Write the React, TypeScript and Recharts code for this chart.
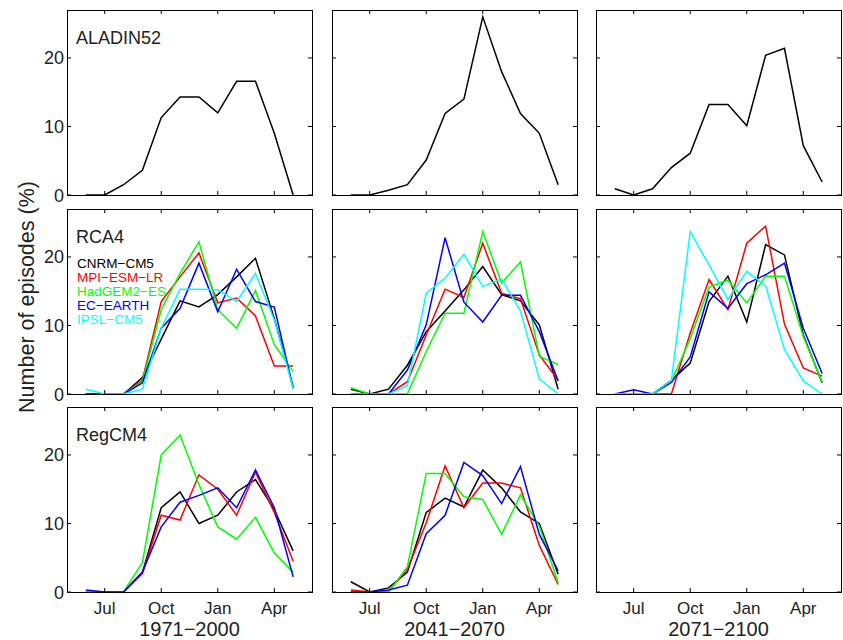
import { LineChart, Line, XAxis, YAxis, ReferenceArea } from "recharts";

// Month axis: Jun (6) ... May (17), hydrological year
const months = [6, 7, 8, 9, 10, 11, 12, 13, 14, 15, 16, 17];
const monthTicks = [7, 10, 13, 16];
const monthNames: Record<number, string> = { 7: "Jul", 10: "Oct", 13: "Jan", 16: "Apr" };
const yTicks = [0, 10, 20];
const periods = ["1971−2000", "2041−2070", "2071−2100"];
const models = ["CNRM−CM5", "MPI−ESM−LR", "HadGEM2−ES", "EC−EARTH", "IPSL−CM5"];

// ALADIN52 (driven by CNRM-CM5)
const aladinHist = [0, 0, 1.5, 3.6, 11.3, 14.3, 14.3, 12.0, 16.6, 16.6, 9.0, 0];
const aladinMid = [0, 0, 0.7, 1.5, 5.1, 11.9, 14.0, 26.0, 18.0, 11.9, 9.0, 1.5];
const aladinEnd = [0.9, 0, 0.9, 4.0, 6.1, 13.2, 13.2, 10.1, 20.4, 21.4, 7.2, 1.9];

// RCA4
const rcaHistCnrm = [0, 0, 0, 2.4, 8.0, 13.6, 12.7, 14.5, 17.1, 19.8, 11.0, 1.0];
const rcaHistMpi = [0, 0, 0, 2.0, 13.5, 17.1, 20.6, 13.3, 14.0, 11.4, 4.1, 4.1];
const rcaHistHad = [0, 0, 0, 1.8, 12.3, 17.6, 22.2, 12.3, 9.6, 15.1, 7.2, 3.3];
const rcaHistEc = [0, 0, 0, 1.6, 9.6, 12.5, 19.1, 12.0, 18.2, 13.5, 12.7, 0.8];
const rcaHistIpsl = [0.7, 0, 0, 0.7, 9.6, 15.3, 15.3, 15.2, 13.5, 17.6, 10.8, 0.8];

const rcaMidCnrm = [0.7, 0, 0.7, 4.2, 9.1, 12.1, 15.2, 18.6, 14.5, 13.6, 10.1, 0.7];
const rcaMidMpi = [0, 0, 0, 1.8, 8.6, 15.3, 14.1, 22.0, 14.7, 13.9, 5.7, 2.0];
const rcaMidHad = [0.9, 0, 0, 0, 6.2, 11.8, 11.8, 23.7, 16.2, 19.3, 5.5, 4.3];
const rcaMidEc = [0, 0, 0, 3.5, 10.1, 22.8, 13.4, 10.5, 14.4, 14.4, 9.1, 1.9];
const rcaMidIpsl = [0, 0, 0, 1.2, 14.7, 16.9, 20.4, 15.7, 16.8, 12.1, 2.2, 0];

const rcaEndCnrm = [0, 0, 0, 2.0, 4.5, 13.5, 17.2, 10.5, 21.8, 20.3, 8.6, 1.6];
const rcaEndMpi = [0, 0, 0, 0, 8.9, 16.7, 12.3, 22.0, 24.5, 10.2, 3.8, 2.6];
const rcaEndHad = [0, 0, 0, 1.8, 8.1, 15.6, 16.6, 13.3, 17.2, 17.2, 8.4, 1.7];
const rcaEndEc = [0, 0.6, 0, 1.7, 5.4, 14.9, 12.5, 16.1, 17.4, 19.1, 9.6, 3.0];
const rcaEndIpsl = [0, 0, 0, 2.0, 23.7, 18.8, 13.8, 17.9, 15.8, 6.5, 1.9, 0];

// RegCM4 (no IPSL run)
const regHistCnrm = [0, 0, 0, 2.8, 12.3, 14.6, 10.0, 11.2, 14.6, 16.4, 12.0, 6.0];
const regHistMpi = [0, 0, 0, 2.7, 11.2, 10.5, 17.1, 15.0, 11.2, 17.5, 11.6, 4.5];
const regHistHad = [0, 0, 0, 4.3, 20.0, 22.9, 15.7, 9.5, 7.7, 10.9, 5.7, 2.9];
const regHistEc = [0.3, 0, 0, 2.9, 9.5, 13.1, 14.1, 15.2, 12.3, 17.8, 12.3, 2.2];

const regMidCnrm = [1.5, 0, 0.6, 2.9, 11.6, 13.7, 12.4, 17.8, 15.2, 11.7, 10.0, 2.6];
const regMidMpi = [0.3, 0, 0.1, 3.3, 10.1, 18.4, 12.3, 15.9, 15.9, 15.2, 6.8, 1.1];
const regMidHad = [0, 0, 0, 3.7, 17.3, 17.3, 13.9, 13.5, 8.4, 14.2, 9.6, 1.3];
const regMidEc = [0, 0, 0.3, 1.0, 8.5, 11.2, 18.9, 17.0, 12.9, 18.3, 8.4, 3.1];

const colors = ["#000000", "#ff0000", "#00ff00", "#0000ff", "#00ffff"];
const FONT = '"Liberation Sans", Arial, Helvetica, sans-serif';

const PW = 245;
const PH = 185;
const colLeft = [67, 332, 596];
const rowTop = [10, 209, 407];
const AX_W = 40; // y axis band
const AX_H = 40; // x axis band
const M = { top: 10, right: 10, bottom: 10, left: 20 };

const XTick = ({ x, y, payload, showLabel }: any) => (
  <g>
    <line x1={x} y1={y} x2={x} y2={y - 4} stroke="#000" />
    <line x1={x} y1={y - PH} x2={x} y2={y - PH + 4} stroke="#000" />
    {showLabel && (
      <text x={x} y={y + 22} textAnchor="middle" fontSize={17} fontFamily={FONT} fill="#222">
        {monthNames[payload.value]}
      </text>
    )}
  </g>
);

const YTick = ({ x, y, payload, showLabel }: any) => (
  <g>
    <line x1={x} y1={y} x2={x + 4} y2={y} stroke="#000" />
    <line x1={x + PW} y1={y} x2={x + PW - 4} y2={y} stroke="#000" />
    {showLabel && (
      <text x={x - 3} y={y + 6.5} textAnchor="end" fontSize={18} fontFamily={FONT} fill="#222">
        {payload.value}
      </text>
    )}
  </g>
);

const Panel = ({ col, row, series }: { col: number; row: number; series: number[][] }) => {
  const data = months.map((m, i) => {
    // "base" is an invisible zero line so an empty panel still gets its axes
    const d: Record<string, number> = { m, base: 0 };
    series.forEach((s, k) => (d["s" + k] = s[i]));
    return d;
  });
  return (
    <div style={{ position: "absolute", left: colLeft[col] - M.left - AX_W, top: rowTop[row] - M.top }}>
      <LineChart
        width={PW + AX_W + M.left + M.right}
        height={PH + AX_H + M.top + M.bottom}
        data={data}
        margin={M}
      >
        <XAxis
          dataKey="m"
          type="number"
          domain={[5, 18]}
          allowDataOverflow
          ticks={monthTicks}
          height={AX_H}
          tickSize={0}
          tickMargin={0}
          axisLine={false}
          tickLine={false}
          interval={0}
          tick={(p: any) => <XTick {...p} showLabel={row === 2} />}
        />
        <YAxis
          type="number"
          domain={[0, 27]}
          allowDataOverflow
          ticks={yTicks}
          width={AX_W}
          tickSize={0}
          tickMargin={0}
          axisLine={false}
          tickLine={false}
          interval={0}
          tick={(p: any) => <YTick {...p} showLabel={col === 0} />}
        />
        <ReferenceArea
          x1={5}
          x2={18}
          y1={0}
          y2={27}
          fill="none"
          stroke="#000"
          strokeWidth={1}
          shapeRendering="crispEdges"
        />
        <Line dataKey="base" stroke="none" dot={false} activeDot={false} isAnimationActive={false} />
        {series.map((_, k) => (
          <Line
            key={k}
            type="linear"
            dataKey={"s" + k}
            stroke={colors[k]}
            strokeWidth={1.5}
            dot={false}
            isAnimationActive={false}
          />
        ))}
      </LineChart>
    </div>
  );
};

const panels = [
  { col: 0, row: 0, series: [aladinHist] },
  { col: 1, row: 0, series: [aladinMid] },
  { col: 2, row: 0, series: [aladinEnd] },
  { col: 0, row: 1, series: [rcaHistCnrm, rcaHistMpi, rcaHistHad, rcaHistEc, rcaHistIpsl] },
  { col: 1, row: 1, series: [rcaMidCnrm, rcaMidMpi, rcaMidHad, rcaMidEc, rcaMidIpsl] },
  { col: 2, row: 1, series: [rcaEndCnrm, rcaEndMpi, rcaEndHad, rcaEndEc, rcaEndIpsl] },
  { col: 0, row: 2, series: [regHistCnrm, regHistMpi, regHistHad, regHistEc] },
  { col: 1, row: 2, series: [regMidCnrm, regMidMpi, regMidHad, regMidEc] },
  { col: 2, row: 2, series: [] as number[][] },
];

const rcmNames = ["ALADIN52", "RCA4", "RegCM4"];

export default function App() {
  return (
    <div style={{ position: "absolute", left: 0, top: 0, width: 843, height: 640, background: "#fff", overflow: "hidden" }}>
      {panels.map((p, i) => (
        <Panel key={i} col={p.col} row={p.row} series={p.series} />
      ))}
      <svg
        width={843}
        height={640}
        style={{ position: "absolute", left: 0, top: 0, pointerEvents: "none" }}
        fontFamily={FONT}
      >
        {rcmNames.map((name, r) => (
          <text key={name} x={colLeft[0] + 9} y={rowTop[r] + 34} fontSize={18} fill="#222">
            {name}
          </text>
        ))}
        {models.map((name, k) => (
          <text key={name} x={colLeft[0] + 10} y={rowTop[1] + 59 + k * 14} fontSize={13.5} fill={colors[k]}>
            {name}
          </text>
        ))}
        {periods.map((label, c) => (
          <text key={label} x={colLeft[c] + PW / 2} y={636} textAnchor="middle" fontSize={20} fill="#222">
            {label}
          </text>
        ))}
        <text transform="translate(34,297) rotate(-90)" textAnchor="middle" fontSize={21.5} fill="#222">
          Number of episodes (%)
        </text>
      </svg>
    </div>
  );
}
